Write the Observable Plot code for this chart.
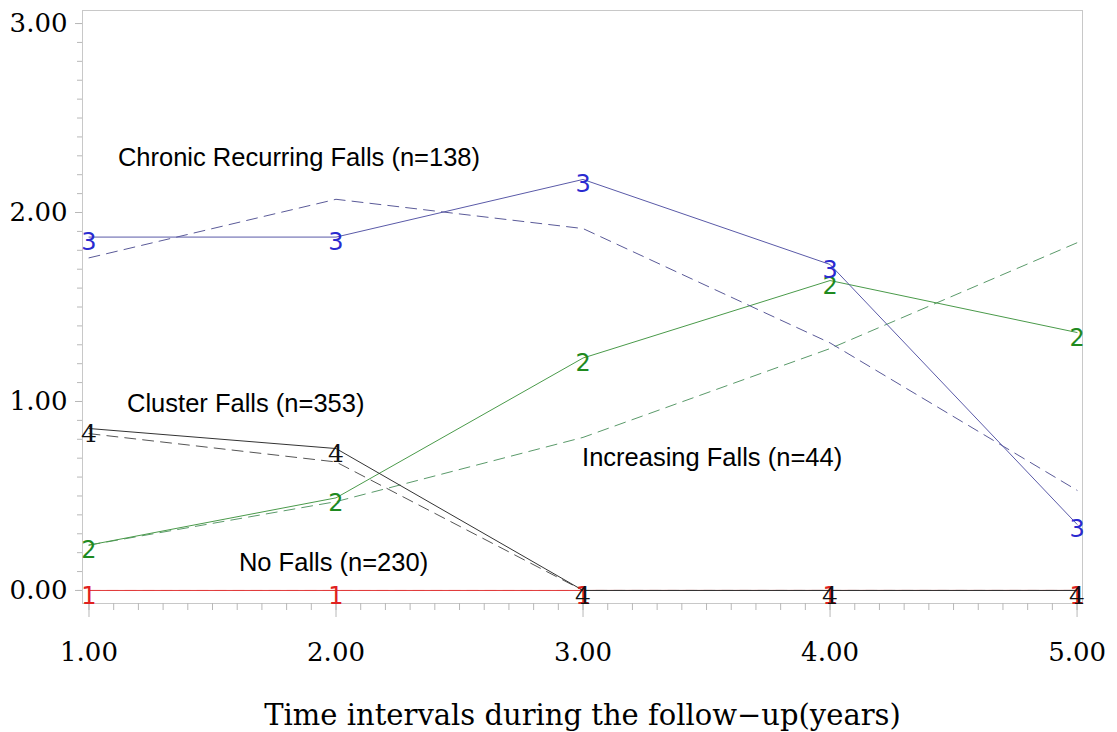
<!DOCTYPE html>
<html><head><meta charset="utf-8">
<script src="https://cdn.jsdelivr.net/npm/d3@7"></script>
<script src="https://cdn.jsdelivr.net/npm/@observablehq/plot@0.6"></script>
<style>body{margin:0;background:#fff}#chart svg{display:block}</style>
</head><body><div id="chart"></div>
<script>
// ---- data ----
const years = [1, 2, 3, 4, 5];
const groups = ["No Falls", "Increasing Falls", "Chronic Recurring Falls", "Cluster Falls"];
const groupCodes = ["1", "2", "3", "4"];
const observedNoFalls = [0, 0, 0, 0, 0];
const observedIncreasing = [0.24, 0.49, 1.23, 1.64, 1.365];
const observedChronic = [1.87, 1.87, 2.175, 1.725, 0.35];
const observedCluster = [0.857, 0.751, 0, 0, 0];
const predictedNoFalls = [0, 0, 0, 0, 0];
const predictedIncreasing = [0.24, 0.47, 0.81, 1.28, 1.84];
const predictedChronic = [1.76, 2.07, 1.915, 1.31, 0.53];
const predictedCluster = [0.83, 0.68, 0, 0, 0];
const labelTexts = ["Chronic Recurring Falls (n=138)", "Cluster Falls (n=353)", "Increasing Falls (n=44)", "No Falls (n=230)"];
const labelX = [1.117, 1.154, 2.996, 1.607];
const labelY = [2.29, 0.99, 0.704, 0.148];
const yTickValues = [0, 1, 2, 3];
const xTickValues = [1, 2, 3, 4, 5];
const xLabel = "Time intervals during the follow\u2212up(years)";

// ---- styling ----
const lineColors = ["#e03a3a", "#4a9a4a", "#5a5aa8", "#333333"];
const dashColors = ["#f08080", "#5a9a6a", "#5a5a98", "#555555"];
const digitColors = ["#e02020", "#1f8a1f", "#2a2ad0", "#111111"];
const digitFonts = ["DejaVu Sans", "DejaVu Sans", "DejaVu Sans", "DejaVu Serif"];
const digitSizes = [24, 24, 24, 25];

const observed = [observedNoFalls, observedIncreasing, observedChronic, observedCluster];
const predicted = [predictedNoFalls, predictedIncreasing, predictedChronic, predictedCluster];
const series = groups.map((g, gi) => years.map((x, i) => ({
  group: g, code: groupCodes[gi], x, obs: observed[gi][i], pred: predicted[gi][i]
})));
const labels = labelTexts.map((t, i) => ({text: t, x: labelX[i], y: labelY[i]}));

const minorY = d3.range(0, 30.5, 1).map(d => d / 10);
const minorX = d3.range(10, 50.5, 1).map(d => d / 10);

const marks = [
  Plot.frame({stroke: "#c8c8c8"}),
  Plot.axisY(minorY, {tickSize: 5, stroke: "#b8b8b8", fill: "none", label: null}),
  Plot.axisY(yTickValues, {tickSize: 7, tickPadding: 8, stroke: "#b8b8b8", fill: "#000",
    tickFormat: d3.format(".2f"), fontSize: 26, fontFamily: "DejaVu Serif", label: null}),
  Plot.axisX(minorX, {tickSize: 7, stroke: "#b8b8b8", fill: "none", label: null}),
  Plot.axisX(xTickValues, {tickSize: 14, tickPadding: 25, stroke: "#b8b8b8", fill: "#000",
    tickFormat: d3.format(".2f"), fontSize: 26, fontFamily: "DejaVu Serif", label: null}),
  Plot.text([xLabel], {frameAnchor: "bottom", dy: 112, fontSize: 29, fontFamily: "DejaVu Serif",
    lineAnchor: "middle", fill: "#000"})
];
series.forEach((rows, gi) => {
  marks.push(Plot.line(rows, {x: "x", y: "pred", stroke: dashColors[gi], strokeWidth: 1, strokeDasharray: "11,7"}));
  marks.push(Plot.line(rows, {x: "x", y: "obs", stroke: lineColors[gi], strokeWidth: 1}));
});
series.forEach((rows, gi) => {
  marks.push(Plot.text(rows, {x: "x", y: "obs", text: "code", fill: digitColors[gi], fontSize: digitSizes[gi],
    fontFamily: digitFonts[gi], lineAnchor: "top", dy: -4}));
});
marks.push(Plot.text(labels, {x: "x", y: "y", text: "text", textAnchor: "start", lineAnchor: "middle",
  fontSize: 25.5, fontFamily: "Liberation Sans", fill: "#000"}));

const chart = Plot.plot({
  width: 1117,
  height: 732,
  marginLeft: 82,
  marginRight: 35,
  marginTop: 10,
  marginBottom: 129,
  x: {domain: [0.9737, 5.022]},
  y: {domain: [-0.069, 3.069]},
  style: {background: "#fff", color: "#000", overflow: "visible"},
  marks
});
document.getElementById("chart").appendChild(chart);
</script>
</body></html>
